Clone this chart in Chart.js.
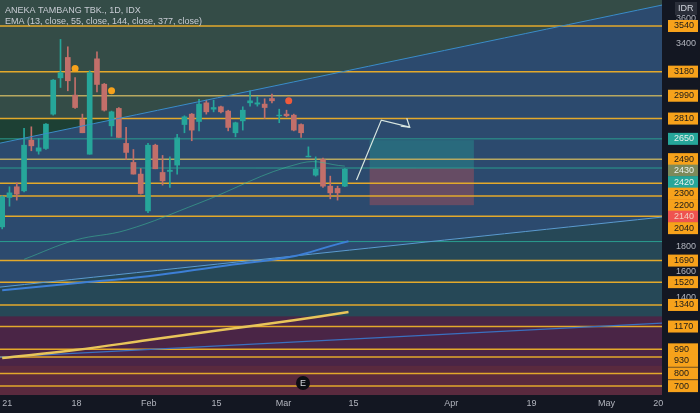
<!DOCTYPE html>
<html><head><meta charset="utf-8">
<script src="https://cdn.jsdelivr.net/npm/chart.js@4"></script>
<style>html,body{margin:0;background:#131722;}#wrap{width:700px;height:413px;}</style>
</head><body><div id="wrap"><canvas id="c"></canvas></div>
<script>
// candles: [open, high, low, close], one per trading day from Jan 4 2021
var candles = [
 [1956,2200,1940,2193],[2188,2272,2119,2224],[2272,2303,2167,2214],[2240,2732,2232,2600],
 [2640,2745,2556,2595],[2553,2653,2529,2579],[2574,2771,2566,2766],[2845,3118,2837,3113],
 [3131,3434,3055,3171],[3292,3376,3029,3108],[2995,3134,2890,2897],[2803,2845,2698,2698],
 [2529,3187,2529,3171],[3281,3336,3021,3079],[3081,3087,2869,2876],[2753,2869,2671,2863],
 [2890,2897,2661,2661],[2614,2740,2487,2543],[2464,2566,2372,2372],[2372,2416,2214,2219],
 [2082,2614,2067,2600],[2600,2608,2414,2414],[2385,2519,2285,2319],[2393,2508,2267,2403],
 [2443,2685,2372,2658],[2763,2832,2698,2824],[2845,2850,2635,2719],[2787,2961,2713,2924],
 [2934,2955,2845,2863],[2884,2955,2863,2897],[2903,2908,2855,2863],[2869,2876,2713,2740],
 [2698,2782,2666,2777],[2792,2903,2719,2876],[2934,3029,2908,2950],[2924,2982,2908,2934],
 [2924,2966,2811,2897],[2968,3003,2934,2950],[2832,2884,2777,2837],[2845,2876,2824,2832],
 [2837,2845,2713,2719],[2763,2769,2661,2698],[2508,2587,2508,2514],[2364,2508,2356,2411],
 [2487,2498,2267,2277],[2277,2356,2177,2224],[2259,2277,2167,2224],[2277,2416,2272,2411]
];
var levels = [3540,3180,2990,2810,2490,2300,2200,2040,1690,1520,1340,1170,990,930,800,700];
var tealLevels = [2650,2420,1840];
var greyTicks = [3600,3400,1800,1600,1400];
var xTickIdx = [0.7,10.2,20.1,29.4,38.6,48.2,61.6,72.6,82.9,90];
var xTickLbl = ['21','18','Feb','15','Mar','15','Apr','19','May','20'];
var ema55 = [{x:3,y:1700},{x:10,y:1851},{x:17,y:1930},{x:27,y:2143},{x:41,y:2459},{x:47,y:2435}];
var ema144 = [{x:0,y:1457},{x:10,y:1512},{x:20,y:1567},{x:30,y:1646},{x:40,y:1725},{x:45,y:1804},{x:47.5,y:1843}];
var ema377 = [{x:0,y:921},{x:10,y:984},{x:20,y:1063},{x:30,y:1142},{x:40,y:1220},{x:47.5,y:1284}];
var trendUp = [{x:-0.3,y:2616},{x:90.5,y:3705}];
var trendMid = [{x:-0.3,y:1481},{x:90.5,y:2033}];
var trendLow = [{x:-0.3,y:929},{x:90.5,y:1197}];
var arrow = [{x:48.6,y:2325},{x:52,y:2798},{x:55.9,y:2742}];
var dots = [{x:10,y:3205,c:'#f7a21b'},{x:15,y:3029,c:'#f7a21b'},{x:39.3,y:2950,c:'#f05a3b'}];
var boxProfit = [50.4,64.7,2640,2420];
var boxLoss = [50.4,64.7,2420,2127];
var sideTags = [{v:2650,c:'#26a69a',t:'#e8f0ee'},{v:2430,c:'#7d8a5a',t:'#e8f0ee'},{v:2420,c:'#26a69a',t:'#e8f0ee'},{v:2140,c:'#ef5350',t:'#f3d0c0'}];

var up='#26a69a', dn='#c26f6a';
var wicks = candles.map(function(k,i){return {x:i,y:[k[2],k[1]]};});
var bodies = candles.map(function(k,i){return {x:i,y:[k[0],k[3]]};});
var cols = candles.map(function(k){return k[3]>=k[0]?up:dn;});

var deco = {
 id:'deco',
 beforeDatasetsDraw:function(ch){
  var c=ch.ctx,a=ch.chartArea,x=ch.scales.x,y=ch.scales.y;
  function P(p){return [x.getPixelForValue(p.x),y.getPixelForValue(p.y)];}
  c.save();
  c.fillStyle='#2b4a5e';c.fillRect(a.left,a.top,a.width,a.height);
  var u0=P(trendUp[0]),u1=P(trendUp[1]),m0=P(trendMid[0]),m1=P(trendMid[1]),l0=P(trendLow[0]),l1=P(trendLow[1]);
  c.fillStyle='#344c47';c.beginPath();c.moveTo(a.left,a.top);c.lineTo(a.right,a.top);c.lineTo(u1[0],u1[1]);c.lineTo(u0[0],u0[1]);c.closePath();c.fill();
  c.fillStyle='#2c4a6e';c.beginPath();c.moveTo(u0[0],u0[1]);c.lineTo(u1[0],u1[1]);c.lineTo(m1[0],m1[1]);c.lineTo(m0[0],m0[1]);c.closePath();c.fill();
  c.fillStyle='#264857';c.beginPath();c.moveTo(m0[0],m0[1]);c.lineTo(m1[0],m1[1]);c.lineTo(l1[0],l1[1]);c.lineTo(l0[0],l0[1]);c.closePath();c.fill();
  var y28=y.getPixelForValue(2810);
  var t=(y28-u0[1])/(u1[1]-u0[1]);var xi=u0[0]+t*(u1[0]-u0[0]);
  c.fillStyle='#1d4034';c.beginPath();c.moveTo(a.left,y28);c.lineTo(xi,y28);c.lineTo(u0[0],u0[1]);c.closePath();c.fill();
  var yb=y.getPixelForValue(1250);
  c.fillStyle='#4a2546';c.fillRect(a.left,yb,a.width,a.bottom-yb);
  var yc=y.getPixelForValue(860);
  c.fillStyle='#5a2a3e';c.fillRect(a.left,yc,a.width,a.bottom-yc);
  [[boxProfit,'rgba(38,166,154,0.35)'],[boxLoss,'rgba(239,83,80,0.3)']].forEach(function(b){
   var x0=x.getPixelForValue(b[0][0]),x1=x.getPixelForValue(b[0][1]),y0=y.getPixelForValue(b[0][2]),y1=y.getPixelForValue(b[0][3]);
   c.fillStyle=b[1];c.fillRect(x0,y0,x1-x0,y1-y0);});
  levels.forEach(function(v){var py=y.getPixelForValue(v);c.strokeStyle=(v===2990||v===2490)?'#b8a860':'#e3a92b';c.lineWidth=1.5;c.beginPath();c.moveTo(a.left,py);c.lineTo(a.right,py);c.stroke();});
  tealLevels.forEach(function(v){var py=y.getPixelForValue(v);c.strokeStyle='#2a9d8f';c.lineWidth=1;c.beginPath();c.moveTo(a.left,py);c.lineTo(a.right,py);c.stroke();});
  c.restore();
 },
 afterDraw:function(ch){
  var c=ch.ctx,a=ch.chartArea,x=ch.scales.x,y=ch.scales.y;
  c.save();
  dots.forEach(function(d){c.fillStyle=d.c;c.beginPath();c.arc(x.getPixelForValue(d.x),y.getPixelForValue(d.y),3.5,0,7);c.fill();});
  var e=[x.getPixelForValue(arrow[2].x),y.getPixelForValue(arrow[2].y)];
  c.strokeStyle='#d8e6e0';c.lineWidth=1.2;c.beginPath();c.moveTo(e[0]-9,e[1]-1);c.lineTo(e[0],e[1]);c.lineTo(e[0]-3,e[1]-9);c.stroke();
  c.fillStyle='#131722';c.fillRect(a.right,0,700-a.right,413);c.fillRect(0,a.bottom,700,413-a.bottom);
  c.font='9px "Liberation Sans", Arial';c.textBaseline='middle';
  greyTicks.forEach(function(v){c.fillStyle='#b2b5be';c.fillText(String(v),a.right+14,y.getPixelForValue(v));});
  // price tags, pushed apart so they do not overlap
  var tags=levels.map(function(v){return {v:v,c:'#f7a21b',t:'#1a1a1a'};}).concat(sideTags);
  tags.forEach(function(g){g.py=y.getPixelForValue(g.v);});
  tags.sort(function(p,q){return p.py-q.py;});
  for(var i=1;i<tags.length;i++){if(tags[i].py<tags[i-1].py+11.5)tags[i].py=tags[i-1].py+11.5;}
  tags.forEach(function(g){c.fillStyle=g.c;c.fillRect(a.right+6,g.py-6,30,12);c.fillStyle=g.t;c.fillText(String(g.v),a.right+12,g.py);});
  c.fillStyle='#2a2e39';c.fillRect(a.right+13,2,22,13);c.fillStyle='#d1d4dc';c.fillText('IDR',a.right+16,9);
  c.fillStyle='#b2b5be';c.textAlign='center';
  xTickIdx.forEach(function(v,i){c.fillText(xTickLbl[i],x.getPixelForValue(v),404);});
  c.textAlign='left';c.fillStyle='#c8ccd4';c.font='9px "Liberation Sans", Arial';
  c.fillText('ANEKA TAMBANG TBK., 1D, IDX',5,11);c.fillText('EMA (13, close, 55, close, 144, close, 377, close)',5,22);
  c.fillStyle='#0c0e14';c.beginPath();c.arc(303,383,7,0,7);c.fill();c.fillStyle='#d1d4dc';c.textAlign='center';c.fillText('E',303,384);
  c.restore();
 }
};

function ln(d,col,w){return {type:'line',data:d,borderColor:col,borderWidth:w,pointRadius:0,tension:0.4,order:1};}
new Chart(document.getElementById('c'),{
 type:'bar',
 data:{datasets:[
  {data:wicks,backgroundColor:cols,barThickness:1,grouped:false,order:3},
  {data:bodies,backgroundColor:cols,barThickness:5,grouped:false,order:2},
  ln(ema55,'rgba(60,190,150,0.55)',1),
  ln(ema144,'#3d7fd6',2),
  ln(ema377,'#e8c55a',2.5),
  ln(trendUp,'#3a8cc8',1),ln(trendMid,'#5a9ad0',1),ln(trendLow,'#3a70c0',1.2),
  Object.assign(ln(arrow,'#d8e6e0',1.2),{tension:0})
 ]},
 options:{
  responsive:true,maintainAspectRatio:false,animation:false,
  layout:{padding:{left:0,right:30,top:0,bottom:10}},
  plugins:{legend:{display:false},tooltip:{enabled:false}},
  scales:{
   x:{type:'linear',min:-0.3,max:90.5,offset:false,display:true,
      afterBuildTicks:function(s){s.ticks=xTickIdx.map(function(v){return {value:v};});},
      ticks:{display:false},grid:{color:'rgba(255,255,255,0.05)'},border:{display:false}},
   y:{type:'linear',min:630,max:3745,position:'right',
      afterBuildTicks:function(s){s.ticks=greyTicks.concat(levels).map(function(v){return {value:v};});},
      ticks:{display:false},grid:{color:'rgba(255,255,255,0.05)'},border:{display:false}}
  }
 },
 plugins:[deco]
});
</script></body></html>
